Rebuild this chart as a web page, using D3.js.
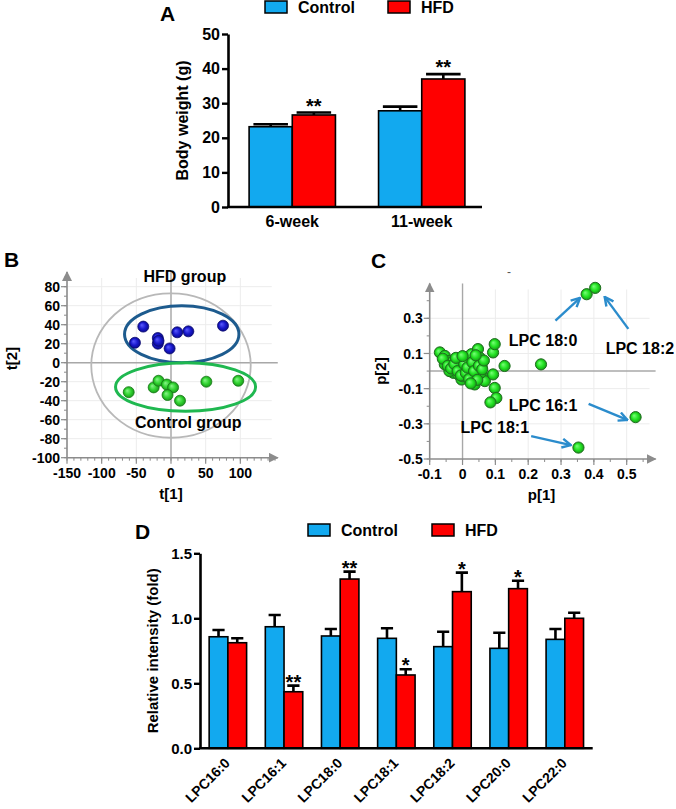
<!DOCTYPE html>
<html lang="en">
<head>
<meta charset="UTF-8">
<title>HFD body weight and LPC figure</title>
<script src="https://cdn.jsdelivr.net/npm/d3@7"></script>
<style>
  body { margin: 0; background: #fff; }
  svg { display: block; font-family: "Liberation Sans", Arial, sans-serif; font-weight: bold; }
</style>
</head>
<body>
<svg id="fig" width="676" height="809"></svg>
<script>
// ---- data ----
const groups = ["Control", "HFD"];
const groupColors = ["#12a9ef", "#ff0000"];

// A: body weight
const weeks = ["6-week", "11-week"];
const weightControl = [23.2, 27.8];
const weightControlErr = [0.7, 1.2];
const weightHFD = [26.6, 37.0];
const weightHFDErr = [0.7, 1.4];
const weightStars = ["**", "**"];
const weightTicks = [0, 10, 20, 30, 40, 50];

// B: PCA scores t[1], t[2]
const hfdScores = [[-40, 38], [-52, 21], [-19, 26], [-19, 20], [-18, 23], [-2, 15], [9, 32], [25, 33], [75, 39]];
const controlScores = [[-61, -31], [-25, -26], [-18, -19], [-6, -23], [3, -26], [-5, -34], [13, -40], [51, -20], [97, -19]];
const scoreTicksX = [-150, -100, -50, 0, 50, 100];
const scoreTicksY = [-100, -80, -60, -40, -20, 0, 20, 40, 60, 80];

// C: loadings p[1], p[2]
const loadings = [
  [-0.069, 0.106], [-0.054, 0.086], [-0.054, 0.038], [-0.044, 0.057], [-0.033, 0.048],
  [-0.028, -0.01], [-0.023, 0.02], [-0.013, 0.038], [-0.013, -0.019], [-0.008, 0.01],
  [-0.003, -0.048], [-0.003, 0.02], [0.002, 0.029], [0.007, 0.0], [0.012, 0.048],
  [0.017, 0.067], [0.017, -0.029], [0.027, 0.096], [0.027, 0.029], [0.032, -0.057],
  [0.037, -0.076], [0.037, -0.029], [0.047, 0.0], [0.047, 0.125], [0.052, 0.077],
  [0.058, 0.029], [0.062, -0.029], [0.068, -0.057], [-0.04, 0.0], [0.0, -0.03],
  [0.022, 0.01], [0.042, 0.04], [-0.018, 0.06], [0.055, -0.01],
  [-0.06, 0.07], [-0.045, 0.03], [-0.035, 0.015], [-0.025, 0.04], [-0.015, 0.0],
  [-0.005, -0.025], [0.005, 0.04], [0.01, -0.01], [0.015, 0.02], [0.02, -0.045],
  [0.03, 0.05], [0.035, 0.0], [0.045, -0.05], [0.05, 0.03], [0.06, 0.01],
  [-0.02, 0.075], [0.0, 0.085], [0.025, -0.07], [0.065, 0.06], [0.04, 0.09],
  [0.093, 0.106], [0.098, 0.153], [0.128, 0.029], [0.239, 0.038], [0.093, -0.019],
  [0.098, -0.096], [0.103, -0.153], [0.085, -0.178],
  [0.378, 0.437], [0.404, 0.473], [0.527, -0.262], [0.353, -0.435]
];
const loadTicksX = [-0.1, 0, 0.1, 0.2, 0.3, 0.4, 0.5];
const loadTicksY = [-0.5, -0.3, -0.1, 0.1, 0.3];
const loadLabels = ["LPC 18:0", "LPC 18:2", "LPC 16:1", "LPC 18:1"];
const loadLabelPos = [[0.141, 0.178], [0.436, 0.129], [0.141, -0.195], [-0.006, -0.32]];
const loadArrows = [
  [[0.283, 0.287], [0.358, 0.416]],
  [[0.505, 0.24], [0.433, 0.422]],
  [[0.384, -0.186], [0.502, -0.278]],
  [[0.209, -0.37], [0.33, -0.421]]
];

// D: LPC relative intensity
const lpcNames = ["LPC16:0", "LPC16:1", "LPC18:0", "LPC18:1", "LPC18:2", "LPC20:0", "LPC22:0"];
const lpcControl = [0.858, 0.935, 0.864, 0.846, 0.782, 0.769, 0.838];
const lpcControlErr = [0.052, 0.09, 0.054, 0.077, 0.115, 0.12, 0.08];
const lpcHFD = [0.812, 0.435, 1.302, 0.564, 1.205, 1.228, 1.0];
const lpcHFDErr = [0.034, 0.047, 0.057, 0.044, 0.146, 0.061, 0.043];
const lpcStars = ["", "**", "**", "*", "*", "*", ""];
const lpcTicks = [0, 0.5, 1.0, 1.5];

const svg = d3.select("#fig");

// gradients for the score/loading points
const defs = svg.append("defs");
function grad(id, c0, c1, c2) {
  const g = defs.append("radialGradient").attr("id", id).attr("fx", "35%").attr("fy", "35%");
  g.append("stop").attr("offset", "0%").attr("stop-color", c0);
  g.append("stop").attr("offset", "60%").attr("stop-color", c1);
  g.append("stop").attr("offset", "100%").attr("stop-color", c2);
}
grad("gBlue", "#5c5cff", "#1818cc", "#0b0b8c");
grad("gGreen", "#8af58a", "#2fd22f", "#1c961c");
grad("gLime", "#7aff7a", "#22e222", "#169a16");

function marker(id, color, w) {
  defs.append("marker").attr("id", id)
    .attr("viewBox", "0 0 10 10").attr("refX", 9).attr("refY", 5)
    .attr("markerWidth", w).attr("markerHeight", w).attr("markerUnits", "userSpaceOnUse")
    .attr("orient", "auto")
    .append("path").attr("d", "M0,0 L10,5 L0,10 Z").attr("fill", color);
}
marker("arrGrey", "#8c8c8c", 10);
defs.append("marker").attr("id", "arrBlue")
  .attr("viewBox", "0 0 10 10").attr("refX", 9).attr("refY", 5)
  .attr("markerWidth", 11).attr("markerHeight", 11).attr("markerUnits", "userSpaceOnUse")
  .attr("orient", "auto")
  .append("path").attr("d", "M1,1 L9,5 L1,9").attr("fill", "none")
  .attr("stroke", "#2b8ccc").attr("stroke-width", 2.2);

function legend(x0, x1, y) {
  [x0, x1].forEach((x, i) => {
    svg.append("rect").attr("x", x).attr("y", y - 6).attr("width", 22).attr("height", 12)
      .attr("fill", groupColors[i]).attr("stroke", "#000").attr("stroke-width", 1.5);
    svg.append("text").attr("x", x + 33).attr("y", y).attr("dy", "0.36em")
      .attr("font-size", 16).text(groups[i]);
  });
}

function barPanel(o) {
  const g = svg.append("g");
  const x = d3.scaleBand(o.cats, o.xRange).paddingInner(0.333).paddingOuter(0.163);
  const sub = d3.scaleBand(groups, [0, x.bandwidth()]);
  const y = d3.scaleLinear(o.domain, o.yRange);

  const rows = o.cats.map((c, i) => ({
    c, i,
    vals: [[o.ctrl[i], o.ctrlErr[i]], [o.hfd[i], o.hfdErr[i]]]
  }));

  const grp = g.selectAll("g.grp").data(rows).join("g")
    .attr("transform", d => `translate(${x(d.c)},0)`);

  grp.selectAll("rect").data(d => d.vals.map((v, k) => ({ v: v[0], e: v[1], k })))
    .join("rect")
    .attr("x", d => sub(groups[d.k]))
    .attr("width", sub.bandwidth())
    .attr("y", d => y(d.v))
    .attr("height", d => y(0) - y(d.v))
    .attr("fill", d => groupColors[d.k])
    .attr("stroke", "#000").attr("stroke-width", 1.6);

  const capW = sub.bandwidth() * o.cap;
  grp.selectAll("path.err").data(d => d.vals.map((v, k) => ({ v: v[0], e: v[1], k })))
    .join("path")
    .attr("d", d => {
      const cx = sub(groups[d.k]) + sub.bandwidth() / 2;
      return `M${cx},${y(d.v)}V${y(d.v + d.e)}M${cx - capW / 2},${y(d.v + d.e)}H${cx + capW / 2}`;
    })
    .attr("stroke", "#000").attr("stroke-width", 2.6).attr("fill", "none");

  grp.append("text")
    .attr("x", sub("HFD") + sub.bandwidth() / 2)
    .attr("y", d => y(d.vals[1][0] + d.vals[1][1]) + o.starDy)
    .attr("text-anchor", "middle").attr("font-size", 20)
    .text(d => o.stars[d.i]);

  const ax = g.append("g").attr("transform", `translate(${o.xRange[0]},0)`)
    .call(d3.axisLeft(y).tickValues(o.ticks).tickFormat(o.fmt).tickSize(6).tickSizeOuter(0).tickPadding(2));
  ax.select(".domain").attr("stroke-width", 2.6);
  ax.selectAll(".tick line").attr("stroke-width", 2.4);
  ax.selectAll(".tick text").attr("font-size", o.tickFont).attr("font-family", null).attr("fill", "#000");

  g.append("line").attr("x1", o.xRange[0] - 1).attr("x2", o.axisEnd)
    .attr("y1", y(0)).attr("y2", y(0)).attr("stroke", "#000").attr("stroke-width", 2.6);

  g.append("text")
    .attr("transform", `translate(${o.ylabX},${(o.yRange[0] + o.yRange[1]) / 2}) rotate(-90)`)
    .attr("text-anchor", "middle").attr("font-size", o.ylabFont).text(o.ylab);
  return { g, x, y };
}

// ---- Panel A ----
svg.append("text").attr("x", 160).attr("y", 21).attr("font-size", 21).text("A");
legend(265, 388, 7);
const A = barPanel({
  cats: weeks, ctrl: weightControl, ctrlErr: weightControlErr, hfd: weightHFD, hfdErr: weightHFDErr,
  stars: weightStars, xRange: [228, 486], axisEnd: 482, domain: [0, 50], yRange: [207, 34],
  ticks: weightTicks, fmt: d3.format("d"), tickFont: 16, cap: 0.8, starDy: 0,
  ylab: "Body weight (g)", ylabX: 188, ylabFont: 16
});
A.g.selectAll("text.xl").data(weeks).join("text").attr("class", "xl")
  .attr("x", d => A.x(d) + A.x.bandwidth() / 2).attr("y", 227)
  .attr("text-anchor", "middle").attr("font-size", 16).text(d => d);

// ---- Panel D ----
svg.append("text").attr("x", 135).attr("y", 539).attr("font-size", 21).text("D");
legend(308, 432, 530);
const D = barPanel({
  cats: lpcNames, ctrl: lpcControl, ctrlErr: lpcControlErr, hfd: lpcHFD, hfdErr: lpcHFDErr,
  stars: lpcStars, xRange: [200, 592.7], axisEnd: 592.7, domain: [0, 1.5], yRange: [748.3, 553.3],
  ticks: lpcTicks, fmt: d3.format(".1f"), tickFont: 15, cap: 0.65, starDy: 3,
  ylab: "Relative intensity (fold)", ylabX: 158, ylabFont: 15
});
D.g.selectAll("text.xl").data(lpcNames).join("text").attr("class", "xl")
  .attr("transform", d => `translate(${D.x(d) + D.x.bandwidth() / 2 + 3},${764}) rotate(-45)`)
  .attr("text-anchor", "end").attr("font-size", 14).text(d => d);

// ---- scatter panel helper ----
function scatterAxes(o) {
  const g = svg.append("g");
  const x = d3.scaleLinear(o.xDom, o.xRange);
  const y = d3.scaleLinear(o.yDom, o.yRange);
  const x0 = o.xRange[0], y0 = o.yRange[0];
  const top = y(o.yMax), right = x(o.xMax);

  // faint grid
  g.append("g").selectAll("line").data(o.gridX).join("line")
    .attr("x1", d => x(d)).attr("x2", d => x(d)).attr("y1", top + 6).attr("y2", y0)
    .attr("stroke", "#ececec").attr("stroke-width", 1);
  g.append("g").selectAll("line").data(o.gridY).join("line")
    .attr("y1", d => y(d)).attr("y2", d => y(d)).attr("x1", x0).attr("x2", right - 6)
    .attr("stroke", "#ececec").attr("stroke-width", 1);

  // zero lines
  g.append("line").attr("x1", x(0)).attr("x2", x(0)).attr("y1", top).attr("y2", y0)
    .attr("stroke", "#a8a8a8").attr("stroke-width", 1.4);
  g.append("line").attr("x1", x0).attr("x2", right).attr("y1", y(0)).attr("y2", y(0))
    .attr("stroke", "#a8a8a8").attr("stroke-width", 1.4);

  // axes with arrows
  g.append("line").attr("x1", x0).attr("x2", x0).attr("y1", y0).attr("y2", top)
    .attr("stroke", "#8c8c8c").attr("stroke-width", 1.6).attr("marker-end", "url(#arrGrey)");
  g.append("line").attr("x1", x0).attr("x2", right).attr("y1", y0).attr("y2", y0)
    .attr("stroke", "#8c8c8c").attr("stroke-width", 1.6).attr("marker-end", "url(#arrGrey)");

  g.append("g").selectAll("line").data(o.minorX).join("line")
    .attr("x1", d => x(d)).attr("x2", d => x(d)).attr("y1", y0).attr("y2", y0 + 3)
    .attr("stroke", "#8c8c8c");
  g.append("g").selectAll("line").data(o.minorY).join("line")
    .attr("y1", d => y(d)).attr("y2", d => y(d)).attr("x1", x0).attr("x2", x0 - 3)
    .attr("stroke", "#8c8c8c");
  g.append("g").selectAll("line").data(o.ticksX).join("line")
    .attr("x1", d => x(d)).attr("x2", d => x(d)).attr("y1", y0).attr("y2", y0 + 6)
    .attr("stroke", "#8c8c8c").attr("stroke-width", 1.2);
  g.append("g").selectAll("line").data(o.ticksY).join("line")
    .attr("y1", d => y(d)).attr("y2", d => y(d)).attr("x1", x0).attr("x2", x0 - 6)
    .attr("stroke", "#8c8c8c").attr("stroke-width", 1.2);

  g.append("g").selectAll("text").data(o.ticksX).join("text")
    .attr("x", d => x(d)).attr("y", y0 + 20).attr("text-anchor", "middle")
    .attr("font-size", o.tickFont).text(d => String(d));
  g.append("g").selectAll("text").data(o.ticksY).join("text")
    .attr("x", x0 - 7).attr("y", d => y(d)).attr("dy", "0.36em").attr("text-anchor", "end")
    .attr("font-size", o.tickFont).text(d => String(d));

  g.append("text").attr("x", x(0) + o.xlabDx).attr("y", y0 + 41).attr("text-anchor", "middle")
    .attr("font-size", 15).text(o.xlab);
  g.append("text")
    .attr("transform", `translate(${o.ylabX},${y(0) + o.ylabDy}) rotate(-90)`)
    .attr("text-anchor", "middle").attr("font-size", 15).text(o.ylab);
  return { g, x, y };
}

// ---- Panel B ----
svg.append("text").attr("x", 4).attr("y", 267).attr("font-size", 21).text("B");
const B = scatterAxes({
  xDom: [-150, 150], xRange: [67, 275], yDom: [-100, 80], yRange: [457.7, 286.7],
  xMax: 154, yMax: 95.5,
  ticksX: scoreTicksX, ticksY: scoreTicksY,
  minorX: d3.range(-150, 151, 10), minorY: d3.range(-100, 91, 10),
  gridX: scoreTicksX, gridY: scoreTicksY, tickFont: 14,
  xlab: "t[1]", xlabDx: 0, ylab: "t[2]", ylabX: 17, ylabDy: -4
});
B.g.append("ellipse").attr("cx", B.x(0)).attr("cy", B.y(-3))
  .attr("rx", B.x(115) - B.x(0)).attr("ry", B.y(0) - B.y(76))
  .attr("fill", "none").attr("stroke", "#b8b8b8").attr("stroke-width", 1.8);
B.g.append("ellipse").attr("cx", B.x(15.5)).attr("cy", B.y(30))
  .attr("rx", B.x(82.5) - B.x(0)).attr("ry", B.y(0) - B.y(30))
  .attr("fill", "none").attr("stroke", "#1d5b8e").attr("stroke-width", 3);
B.g.append("ellipse").attr("cx", B.x(21)).attr("cy", B.y(-25.5))
  .attr("rx", B.x(101) - B.x(0)).attr("ry", B.y(0) - B.y(25.5))
  .attr("fill", "none").attr("stroke", "#1fb850").attr("stroke-width", 3);
B.g.append("g").selectAll("circle").data(hfdScores).join("circle")
  .attr("cx", d => B.x(d[0])).attr("cy", d => B.y(d[1])).attr("r", 5.5)
  .attr("fill", "url(#gBlue)").attr("stroke", "#0a0a70").attr("stroke-width", 0.8);
B.g.append("g").selectAll("circle").data(controlScores).join("circle")
  .attr("cx", d => B.x(d[0])).attr("cy", d => B.y(d[1])).attr("r", 5.5)
  .attr("fill", "url(#gGreen)").attr("stroke", "#157a15").attr("stroke-width", 0.8);
B.g.append("text").attr("x", B.x(20)).attr("y", 282).attr("text-anchor", "middle")
  .attr("font-size", 16).text("HFD group");
B.g.append("text").attr("x", B.x(25)).attr("y", 428).attr("text-anchor", "middle")
  .attr("font-size", 16).text("Control group");

// ---- Panel C ----
svg.append("text").attr("x", 371).attr("y", 268).attr("font-size", 21).text("C");
svg.append("text").attr("x", 509).attr("y", 276).attr("text-anchor", "middle")
  .attr("font-size", 12).attr("font-weight", "normal").attr("fill", "#555").text("-");
const C = scatterAxes({
  xDom: [-0.1, 0.5], xRange: [429.7, 626.7], yDom: [-0.5, 0.3], yRange: [459, 318.3],
  xMax: 0.588, yMax: 0.498,
  ticksX: loadTicksX, ticksY: loadTicksY,
  minorX: d3.range(-0.1, 0.56, 0.05), minorY: d3.range(-0.5, 0.46, 0.1),
  gridX: [0.1, 0.2, 0.3, 0.4, 0.5], gridY: [0.3, 0.1, -0.1, -0.3], tickFont: 14,
  xlab: "p[1]", xlabDx: 79, ylab: "p[2]", ylabX: 386, ylabDy: 0
});
C.g.append("g").selectAll("circle").data(loadings).join("circle")
  .attr("cx", d => C.x(d[0])).attr("cy", d => C.y(d[1])).attr("r", 5.6)
  .attr("fill", "url(#gLime)").attr("stroke", "#1f6e1f").attr("stroke-width", 1);
C.g.append("g").selectAll("text").data(loadLabels).join("text")
  .attr("x", (d, i) => C.x(loadLabelPos[i][0])).attr("y", (d, i) => C.y(loadLabelPos[i][1]))
  .attr("dy", "0.36em").attr("font-size", 16).text(d => d);
C.g.append("g").selectAll("line").data(loadArrows).join("line")
  .attr("x1", d => C.x(d[0][0])).attr("y1", d => C.y(d[0][1]))
  .attr("x2", d => C.x(d[1][0])).attr("y2", d => C.y(d[1][1]))
  .attr("stroke", "#2b8ccc").attr("stroke-width", 2.4).attr("marker-end", "url(#arrBlue)");
</script>
</body>
</html>
